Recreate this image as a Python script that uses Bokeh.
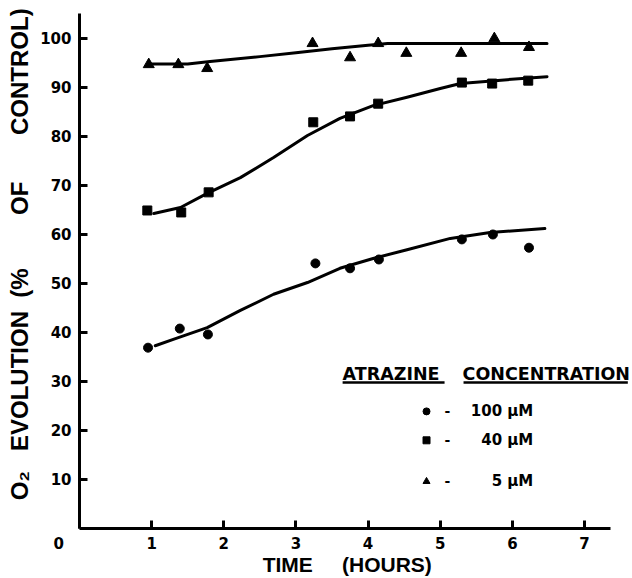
from bokeh.plotting import figure
from bokeh.models import Label, Range1d, FixedTicker
from bokeh.embed import file_html
from bokeh.resources import INLINE

# ---- data ----
x_ticks = [0, 1, 2, 3, 4, 5, 6, 7]
y_ticks = [10, 20, 30, 40, 50, 60, 70, 80, 90, 100]

# 100 uM (circles)
t_100 = [0.95, 1.39, 1.78, 3.27, 3.75, 4.15, 5.30, 5.73, 6.23]
v_100 = [36.9, 40.8, 39.6, 54.1, 53.1, 54.9, 59.0, 60.0, 57.3]
fit_t_100 = [1.05, 1.30, 1.77, 2.23, 2.69, 3.16, 3.61, 4.07, 4.54, 5.14, 5.69, 6.45]
fit_v_100 = [37.3, 38.6, 41.0, 44.5, 47.8, 50.2, 53.1, 55.1, 56.9, 59.2, 60.4, 61.2]

# 40 uM (squares)
t_40 = [0.94, 1.41, 1.79, 3.24, 3.75, 4.14, 5.30, 5.72, 6.22]
v_40 = [64.9, 64.5, 68.6, 82.9, 84.1, 86.7, 91.0, 90.8, 91.4]
fit_t_40 = [1.03, 1.40, 1.77, 2.23, 2.69, 3.16, 3.61, 4.07, 4.54, 5.00, 5.28, 5.93, 6.48]
fit_v_40 = [64.3, 65.5, 68.4, 71.6, 75.7, 80.2, 83.7, 86.3, 88.0, 89.8, 90.8, 91.6, 92.2]

# 5 uM (triangles)
t_5 = [0.96, 1.37, 1.77, 3.23, 3.75, 4.14, 4.53, 5.29, 5.75, 6.23]
v_5 = [94.7, 94.7, 93.9, 99.0, 96.1, 99.0, 97.0, 97.0, 100.0, 98.2]
fit_t_5 = [1.00, 1.50, 1.81, 2.50, 3.00, 3.50, 4.00, 4.27, 5.00, 5.50, 6.11, 6.48]
fit_v_5 = [94.8, 94.8, 95.3, 96.3, 97.1, 97.9, 98.6, 99.0, 99.0, 99.0, 99.0, 99.0]

legend_labels = ["100 \u00b5M", "40 \u00b5M", "5 \u00b5M"]
legend_markers = ["circle", "square", "triangle"]

NB = "\u00a0"
FONT_TICK = "DejaVu Sans"
FONT_LAB = "Liberation Sans"

p = figure(width=632, height=578, output_backend="svg", toolbar_location=None,
           x_range=Range1d(0, 7.665), y_range=Range1d(0, 105.1),
           min_border_left=79, min_border_right=0, min_border_top=13, min_border_bottom=50,
           background_fill_color="white", border_fill_color="white")
p.outline_line_color = None
p.grid.visible = False

for ax in (p.xaxis[0], p.yaxis[0]):
    ax.axis_line_width = 3
    ax.axis_line_color = "black"
    ax.major_tick_line_width = 3
    ax.major_tick_line_color = "black"
    ax.major_tick_in = 8
    ax.major_tick_out = 0
    ax.minor_tick_line_color = None
    ax.major_label_text_font = FONT_TICK
    ax.major_label_text_font_style = "bold"
    ax.major_label_text_font_size = "15px"
    ax.major_label_text_color = "black"
    ax.axis_label_text_font = FONT_LAB
    ax.axis_label_text_font_style = "bold"
    ax.axis_label_text_color = "black"

p.xaxis.ticker = FixedTicker(ticks=x_ticks)
p.xaxis.major_label_overrides = {0: "0" + NB * 8}
p.yaxis.ticker = FixedTicker(ticks=y_ticks)
p.xaxis.bounds = (0, 7.36)
p.xaxis.major_label_standoff = 6
p.yaxis.major_label_standoff = 8

p.xaxis.axis_label = "TIME" + NB * 5 + "(HOURS)" + NB * 3
p.xaxis.axis_label_text_font_size = "21px"
p.xaxis.axis_label_standoff = -3

p.yaxis.axis_label = (NB * 5 + "O\u2082" + NB * 3 + "EVOLUTION" + NB * 2 + "(%" + NB * 8
                      + "OF" + NB * 7 + "CONTROL)")
p.yaxis.axis_label_text_font_size = "24px"
p.yaxis.axis_label_standoff = 4

# fitted curves
for ft, fv in ((fit_t_100, fit_v_100), (fit_t_40, fit_v_40), (fit_t_5, fit_v_5)):
    p.line(ft, fv, line_color="black", line_width=3, line_join="round", line_cap="round")

# data points
p.scatter(t_100, v_100, marker="circle", size=9, color="black")
p.scatter(t_40, v_40, marker="square", size=9, color="black")
p.scatter(t_5, v_5, marker="triangle", size=11, color="black")

# legend
p.add_layout(Label(x=3.647, y=31.5, text="ATRAZINE", text_font=FONT_TICK, text_font_style="bold",
                   text_font_size="17.5px", text_baseline="middle", text_align="left",
                   text_color="black"))
p.add_layout(Label(x=5.31, y=31.5, text="CONCENTRATION", text_font=FONT_TICK, text_font_style="bold",
                   text_font_size="17.5px", text_baseline="middle", text_align="left",
                   text_color="black"))
p.segment(x0=[3.647, 5.323], y0=[29.8, 29.8], x1=[5.06, 7.60], y1=[29.8, 29.8],
          line_color="black", line_width=2.5)

leg_y = [23.9, 18.0, 9.6]
for lab, mk, yy in zip(legend_labels, legend_markers, leg_y):
    p.scatter([4.81], [yy], marker=mk, size=7, color="black")
    p.add_layout(Label(x=5.10, y=yy, text="-", text_font=FONT_TICK, text_font_style="bold",
                       text_font_size="14px", text_baseline="middle", text_align="center",
                       text_color="black"))
    p.add_layout(Label(x=6.29, y=yy, text=lab, text_font=FONT_TICK, text_font_style="bold",
                       text_font_size="15px", text_baseline="middle", text_align="right",
                       text_color="black"))

open("out.html", "w").write(file_html(p, INLINE))
